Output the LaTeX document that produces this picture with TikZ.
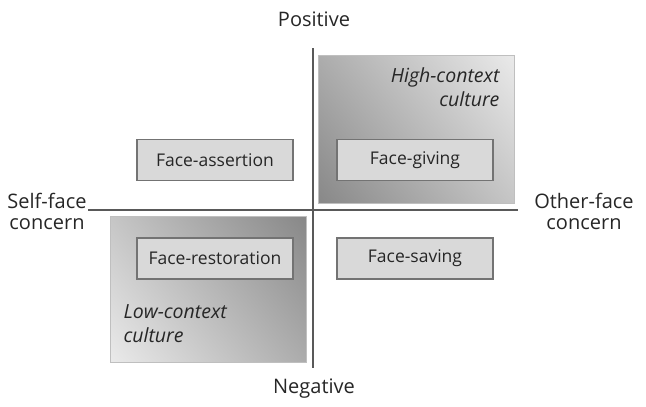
\documentclass[tikz,border=0pt]{standalone}
\usepackage{fontspec}
\setmainfont{Open Sans}
% a soft linear grey ramp used for the two culture regions
\pgfdeclareverticalshading{softramp}{100bp}{%
  color(0bp)=(black!55); color(100bp)=(black!0)}
\begin{document}
\begin{tikzpicture}[x=1pt,y=-1pt,
  lbl/.style={font=\fontsize{20}{21}\selectfont, text=black!85},
  culturelbl/.style={font=\fontsize{19.5}{24}\selectfont\itshape, text=black!85},
  facebox/.style={draw=black!55, line width=1.3pt, fill=black!15,
    minimum width=156pt, minimum height=41pt, inner sep=0pt,
    font=\fontsize{17.5}{21}\selectfont, text=black!85},
  culture/.style={draw=black!25, line width=0.6pt},
  axisline/.style={draw=black!65, line width=2pt}]
\useasboundingbox (0,0) rectangle (646,407);

% shaded culture regions
\shade[culture, shading=softramp, shading angle=-52]
  (318,55) rectangle (514,203);
\shade[culture, shading=softramp, shading angle=128]
  (110,216) rectangle (306,362);
\draw[culture] (318,55) rectangle (514,203);
\draw[culture] (110,216) rectangle (306,362);

% axes
\coordinate (vtop) at (313,48);
\coordinate (vbot) at (313,368);
\coordinate (hl) at (88,210);
\coordinate (hr) at (518,210);
\draw[axisline] (vtop) -- (vbot);
\draw[axisline] (hl) -- (hr);

% axis labels
\node[lbl] (pos) at (314,19) {Positive};
\node[lbl] (neg) at (314,389) {Negative};
\node[lbl, align=center] (self) at (47,211) {Self-face\\concern};
\node[lbl, align=center] (other) at (584,211) {Other-face\\concern};

% culture labels
\node[culturelbl, align=right, anchor=north east] (high) at (503,64) {High-context\\culture};
\node[culturelbl, align=left, anchor=north west] (low) at (120,301) {Low-context\\culture};

% face strategies
\node[facebox] (assert) at (215,160) {Face-assertion};
\node[facebox] (give) at (415,160) {Face-giving};
\node[facebox] (restore) at (215,258.5) {Face-restoration};
\node[facebox] (save) at (415,258.5) {Face-saving};
\end{tikzpicture}
\end{document}
